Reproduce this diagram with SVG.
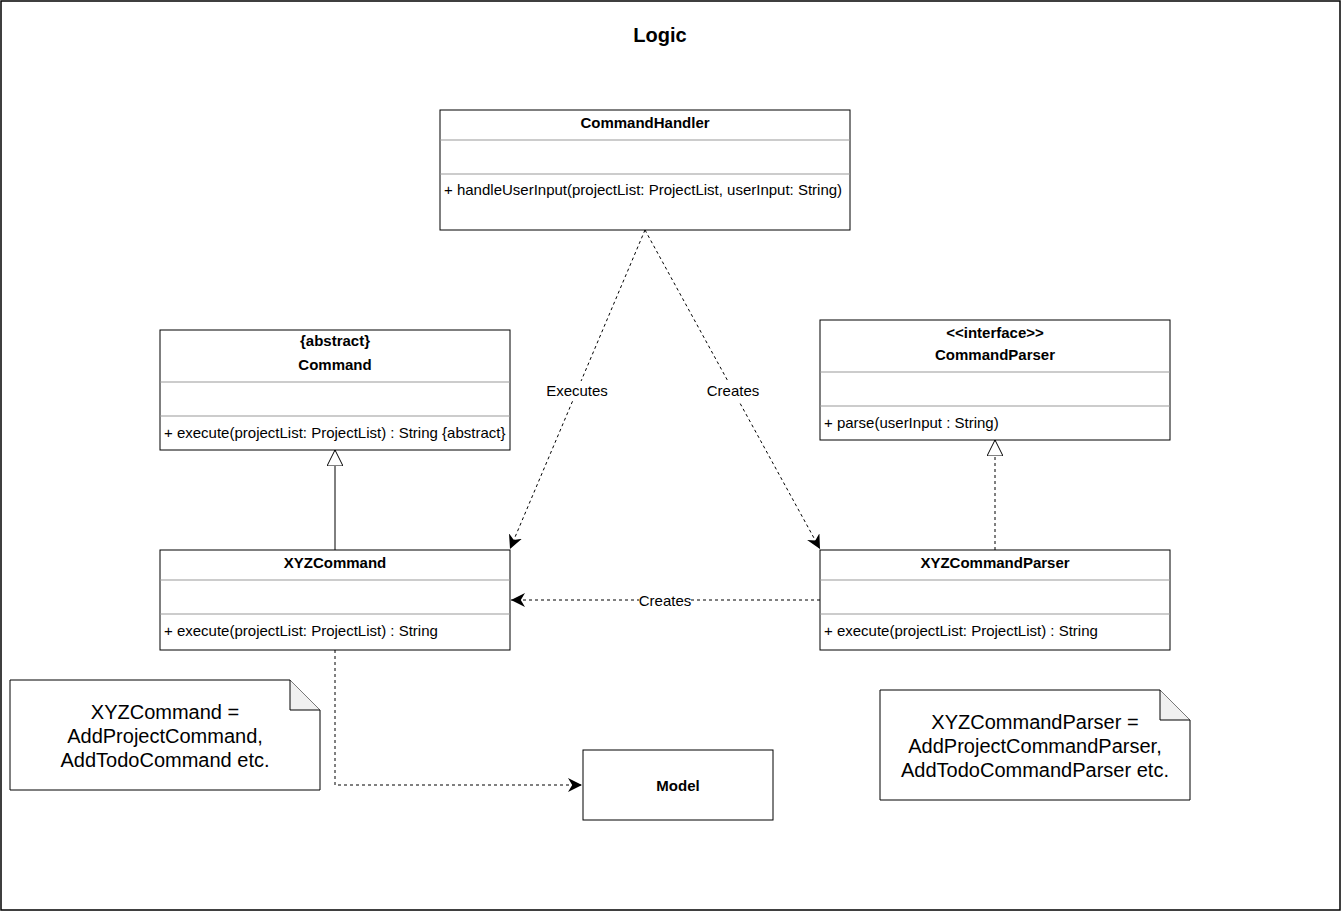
<svg xmlns="http://www.w3.org/2000/svg" width="1341" height="911" viewBox="0 0 1341 911">
<style>
.box{fill:#fff;stroke:#000;stroke-width:1}
.div{stroke:#999;stroke-width:1}
text{font-family:"Liberation Sans",Arial,Helvetica,sans-serif;fill:#000}
.t{font-size:15px;font-weight:bold;text-anchor:middle}
.m{font-size:15px}
.lbl{font-size:15px;text-anchor:middle}
.note{font-size:20px;text-anchor:middle}
.dash{fill:none;stroke:#000;stroke-width:1;stroke-dasharray:3 3}
.solid{fill:none;stroke:#000;stroke-width:1}
</style>
<defs>
<marker id="arr" viewBox="0 0 10 10" refX="10" refY="5" markerWidth="14" markerHeight="14" markerUnits="userSpaceOnUse" orient="auto">
<path d="M0,0 L10,5 L0,10 L3,5 Z" fill="#000"/>
</marker>
<marker id="tri" viewBox="0 0 16 16" refX="16" refY="8" markerWidth="16" markerHeight="16" markerUnits="userSpaceOnUse" orient="auto">
<path d="M0,0 L16,8 L0,16 Z" fill="#fff" stroke="#000" stroke-width="1"/>
</marker>
</defs>
<rect x="0" y="0" width="1341" height="911" fill="#fff"/>
<rect x="1" y="1" width="1339" height="909" fill="none" stroke="#000" stroke-width="1.5"/>
<text x="660" y="42" style="font-size:20px;font-weight:bold;text-anchor:middle">Logic</text>

<g id="connectors">
<line class="dash" x1="645" y1="230" x2="510" y2="549" marker-end="url(#arr)"/>
<line class="dash" x1="645" y1="230" x2="820" y2="549" marker-end="url(#arr)"/>
<rect x="540" y="381" width="74" height="20" fill="#fff"/>
<text class="lbl" x="577" y="396">Executes</text>
<rect x="702" y="381" width="62" height="20" fill="#fff"/>
<text class="lbl" x="733" y="396">Creates</text>
<line class="dash" x1="820" y1="600" x2="511" y2="600" marker-end="url(#arr)"/>
<rect x="639" y="592" width="52" height="18" fill="#fff"/>
<text class="lbl" x="665" y="606">Creates</text>
<line class="solid" x1="335" y1="550" x2="335" y2="450" marker-end="url(#tri)"/>
<line class="dash" x1="995" y1="550" x2="995" y2="440" marker-end="url(#tri)"/>
<polyline class="dash" points="335,650 335,785 582,785" marker-end="url(#arr)"/>
</g>

<g id="CommandHandler">
<rect class="box" x="440" y="110" width="410" height="120"/>
<line class="div" x1="440" y1="140" x2="850" y2="140"/>
<line class="div" x1="440" y1="174" x2="850" y2="174"/>
<text class="t" x="645" y="128">CommandHandler</text>
<text class="m" x="444" y="195">+ handleUserInput(projectList: ProjectList, userInput: String)</text>
</g>

<g id="Command">
<rect class="box" x="160" y="330" width="350" height="120"/>
<line class="div" x1="160" y1="382" x2="510" y2="382"/>
<line class="div" x1="160" y1="416" x2="510" y2="416"/>
<text class="t" x="335" y="346">{abstract}</text>
<text class="t" x="335" y="370">Command</text>
<text class="m" x="164" y="438">+ execute(projectList: ProjectList) : String {abstract}</text>
</g>

<g id="CommandParser">
<rect class="box" x="820" y="320" width="350" height="120"/>
<line class="div" x1="820" y1="372" x2="1170" y2="372"/>
<line class="div" x1="820" y1="406" x2="1170" y2="406"/>
<text class="t" x="995" y="338">&lt;&lt;interface&gt;&gt;</text>
<text class="t" x="995" y="360">CommandParser</text>
<text class="m" x="824" y="428">+ parse(userInput : String)</text>
</g>

<g id="XYZCommand">
<rect class="box" x="160" y="550" width="350" height="100"/>
<line class="div" x1="160" y1="580" x2="510" y2="580"/>
<line class="div" x1="160" y1="614" x2="510" y2="614"/>
<text class="t" x="335" y="568">XYZCommand</text>
<text class="m" x="164" y="636">+ execute(projectList: ProjectList) : String</text>
</g>

<g id="XYZCommandParser">
<rect class="box" x="820" y="550" width="350" height="100"/>
<line class="div" x1="820" y1="580" x2="1170" y2="580"/>
<line class="div" x1="820" y1="614" x2="1170" y2="614"/>
<text class="t" x="995" y="568">XYZCommandParser</text>
<text class="m" x="824" y="636">+ execute(projectList: ProjectList) : String</text>
</g>

<g id="Model">
<rect class="box" x="583" y="750" width="190" height="70"/>
<text class="t" x="678" y="791">Model</text>
</g>

<g id="NoteXYZCommand">
<path class="box" d="M10,680 L290,680 L320,710 L320,790 L10,790 Z"/>
<path d="M290,680 L290,710 L320,710" fill="#f0f0f0" stroke="#000" stroke-width="1"/>
<text class="note" x="165" y="719">XYZCommand =</text>
<text class="note" x="165" y="743">AddProjectCommand,</text>
<text class="note" x="165" y="767">AddTodoCommand etc.</text>
</g>

<g id="NoteXYZCommandParser">
<path class="box" d="M880,690 L1160,690 L1190,720 L1190,800 L880,800 Z"/>
<path d="M1160,690 L1160,720 L1190,720" fill="#f0f0f0" stroke="#000" stroke-width="1"/>
<text class="note" x="1035" y="729">XYZCommandParser =</text>
<text class="note" x="1035" y="753">AddProjectCommandParser,</text>
<text class="note" x="1035" y="777">AddTodoCommandParser etc.</text>
</g>
</svg>
